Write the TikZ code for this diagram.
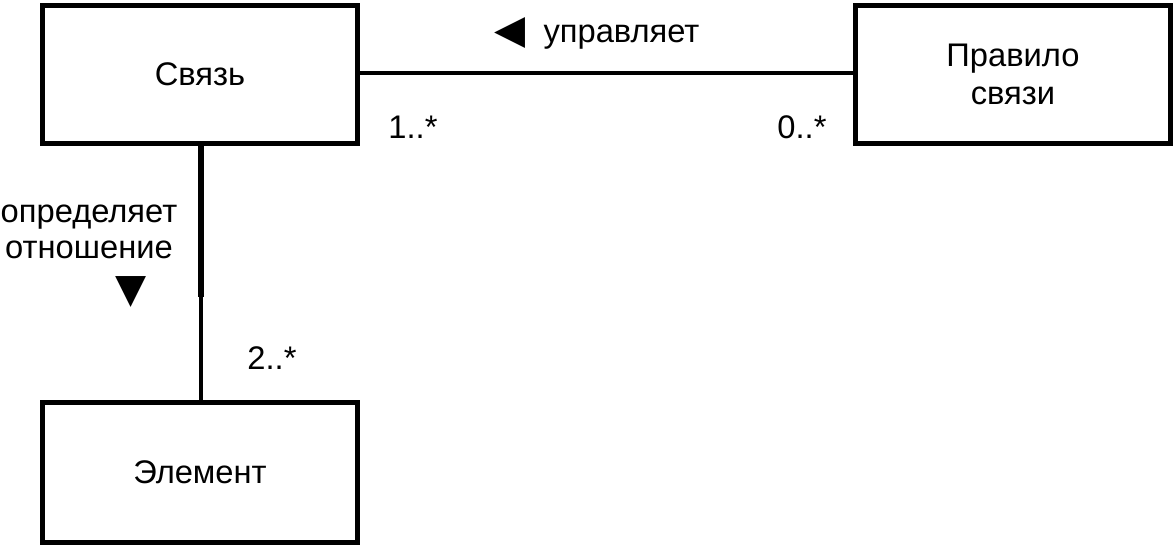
\documentclass[tikz,border=0pt]{standalone}
\usepackage{fontspec}
\setmainfont{Liberation Sans}
\newfontfamily\symfont{DejaVu Sans}
\usetikzlibrary{positioning}
\tikzset{
  classbox/.style={draw, line width=2.8pt, inner sep=0pt, minimum width=6.3cm,
    minimum height=2.76cm, align=center, font=\fontsize{18.6}{21.6}\selectfont},
  lbl/.style={inner sep=0pt, align=center, font=\fontsize{18.6}{20.4}\selectfont},
  tri/.style={inner sep=0pt, font=\symfont\fontsize{23}{26}\selectfont}
}
\begin{document}
\begin{tikzpicture}[scale=1]
  \useasboundingbox (0,0) rectangle (23.5,-10.94);
  % Classes
  \node[classbox] (link) at (4.00,-1.49) {Связь};
  \node[classbox] (rule) at (20.26,-1.49) {Правило\\связи};
  \node[classbox, minimum height=2.8cm] (elem) at (4.00,-9.45) {Элемент};

  % Coordinates
  \coordinate (K) at (4.02,-5.94);

  % Drawing
  \draw[line width=2.2pt] (link.east |- 0,-1.46) -- (rule.west |- 0,-1.46);
  \draw[line width=2.2pt] (link.south -| K) -- (elem.north -| K);
  \draw[line width=3.3pt] (link.south -| K) -- (K);

  % Labels
  \node[tri] (ltri) at (10.20,-0.66) {◀};
  \node[lbl, anchor=base] (manages) at (12.43,-0.85) {управляет};
  \node[lbl, anchor=base] (m1) at (8.26,-2.76) {1..*};
  \node[lbl, anchor=base] (m2) at (16.04,-2.76) {0..*};
  \node[lbl, anchor=base] (m3) at (5.44,-7.38) {2..*};
  \node[lbl] (defines) at (1.78,-4.64) {определяет\\отношение};
  \node[tri] (dtri) at (2.62,-5.84) {▼};
\end{tikzpicture}
\end{document}
